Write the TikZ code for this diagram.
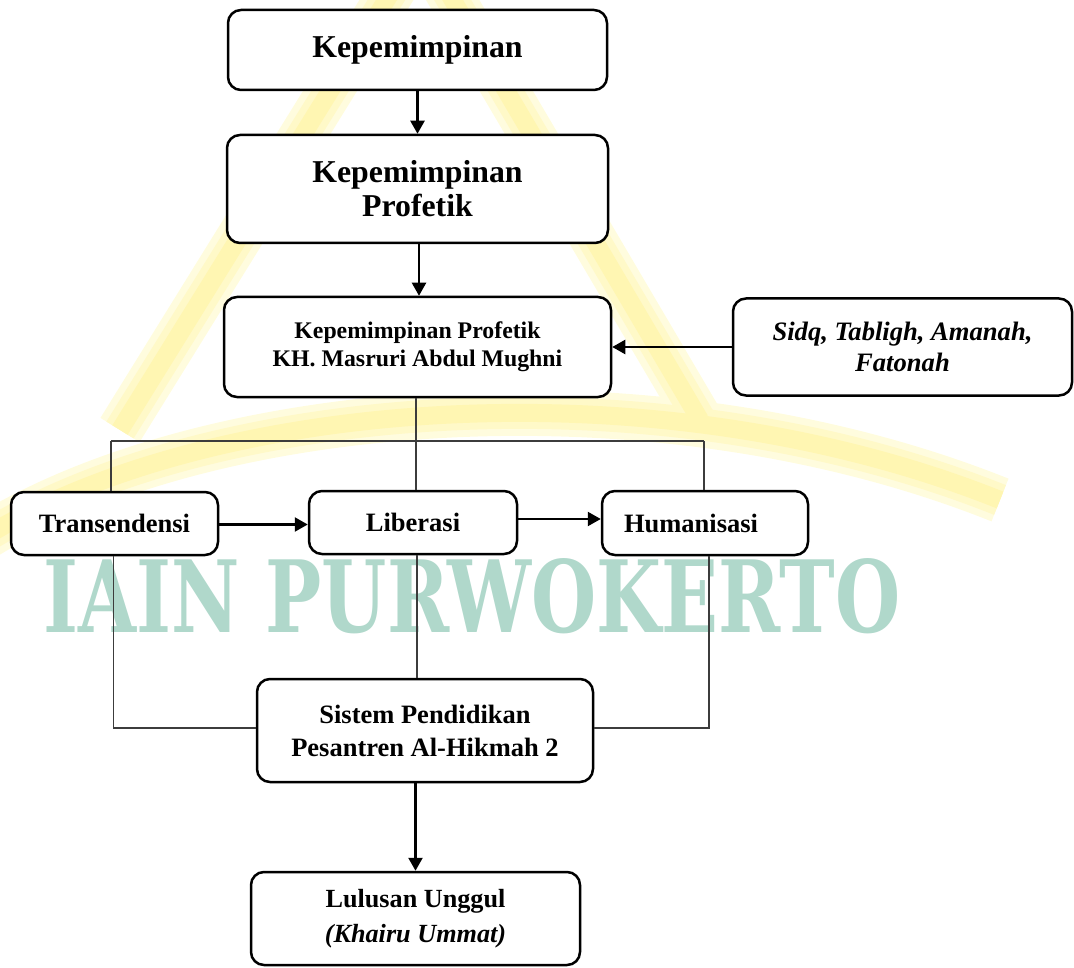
\documentclass[tikz,border=0pt]{standalone}
\usepackage{fontspec}
\setmainfont{Liberation Serif}
\newfontfamily\wmfont{DejaVu Serif}
\usetikzlibrary{arrows.meta}
\definecolor{wmteal}{RGB}{176,216,203}
\definecolor{wmyellowA}{RGB}{255,252,222}
\definecolor{wmyellowB}{RGB}{255,249,200}
\definecolor{wmyellowC}{RGB}{255,246,178}
\definecolor{thinline}{RGB}{60,60,60}
\tikzset{
  box/.style={draw=black, line width=2.5pt, rounded corners=13pt, fill=white, inner sep=0pt, align=center},
  bigtext/.style={font=\fontsize{31.8}{34}\selectfont\bfseries},
  midtext/.style={font=\fontsize{26.5}{33}\selectfont\bfseries},
  smalltext/.style={font=\fontsize{23.8}{28}\selectfont\bfseries},
  italtext/.style={font=\fontsize{26.6}{31}\selectfont\bfseries\itshape},
  flow/.style={draw=black, line width=2.3pt, -{Triangle[length=13pt,width=14pt]}},
  link/.style={draw=thinline, line width=1.3pt},
  bandA/.style={draw=wmyellowA, line width=46pt},
  bandB/.style={draw=wmyellowB, line width=32pt},
  bandC/.style={draw=wmyellowC, line width=18pt},
}
\begin{document}
\begin{tikzpicture}[x=1pt,y=-1pt]
\useasboundingbox (0,0) rectangle (1074,968);
% faint background watermark (logo shape)
\foreach \st in {bandA,bandB,bandC}{
  \draw[\st] (405,-30) -- (120,430);
  \draw[\st] (435,-30) -- (700,420);
  \draw[\st] (-20,540) .. controls (200,400) and (650,360) .. (1000,500);
}
\node[anchor=base west, inner sep=0pt, text=wmteal] (wm) at (43,632)
  {\resizebox{857pt}{74pt}{\wmfont\bfseries IAIN PURWOKERTO}};
% boxes
\node[box, bigtext, minimum width=379pt, minimum height=80pt] (b1) at (417.5,50) {Kepemimpinan};
\node[box, bigtext, minimum width=381pt, minimum height=108pt] (b2) at (417.5,189) {Kepemimpinan\\Profetik};
\node[box, smalltext, minimum width=387pt, minimum height=100pt] (b3) at (417.5,347) {Kepemimpinan Profetik\\KH. Masruri Abdul Mughni};
\node[box, italtext, minimum width=339pt, minimum height=97pt] (b4) at (902.5,347) {Sidq, Tabligh, Amanah,\\Fatonah};
\node[box, midtext, minimum width=207pt, minimum height=63pt] (t) at (114.5,523.5) {Transendensi};
\node[box, midtext, minimum width=208pt, minimum height=63pt] (l) at (413,522.5) {Liberasi};
\node[box, midtext, minimum width=206pt, minimum height=64pt] (h) at (705,523) {\hspace*{-28pt}Humanisasi};
\node[box, midtext, minimum width=336pt, minimum height=103pt] (s) at (425,730.5) {Sistem Pendidikan\\Pesantren Al-Hikmah 2};
\node[box, midtext, minimum width=329pt, minimum height=93pt, font=\fontsize{26.2}{35}\selectfont\bfseries] (u) at (415.5,918.5) {Lulusan Unggul\\\textit{(Khairu Ummat)}};
% coordinates for the tree
\coordinate (top) at (416,441);
\coordinate (tl) at (111,441);
\coordinate (tr) at (704,441);
\coordinate (bl) at (113.5,728);
\coordinate (br) at (709,728);
% thick arrows
\draw[flow] (b1.south) -- (b2.north);
\draw[flow] ([xshift=1.5pt]b2.south) -- ([xshift=1.5pt]b3.north);
\draw[flow] (b4.west) -- (b3.east);
\draw[flow] ([yshift=-1pt]t.east) -- ([yshift=-1pt]t.east -| l.west);
\draw[flow] ([yshift=3.5pt]l.east) -- ([yshift=3.5pt]l.east -| h.west);
\draw[flow] (s.south -| u.north) -- (u.north);
% thin tree links
\draw[link] (b3.south -| top) -- (top);
\draw[link] (tl) -- (tr);
\draw[link] (top) -- (top |- l.north);
\draw[link] (tl) -- (tl |- t.north);
\draw[link] (tr) -- (tr |- h.north);
\draw[link] (t.south -| bl) -- (bl) -- (bl -| s.west);
\draw[link] ([xshift=4pt]l.south) -- ([xshift=4pt]l.south |- s.north);
\draw[link] (h.south -| br) -- (br) -- (br -| s.east);
\end{tikzpicture}
\end{document}
